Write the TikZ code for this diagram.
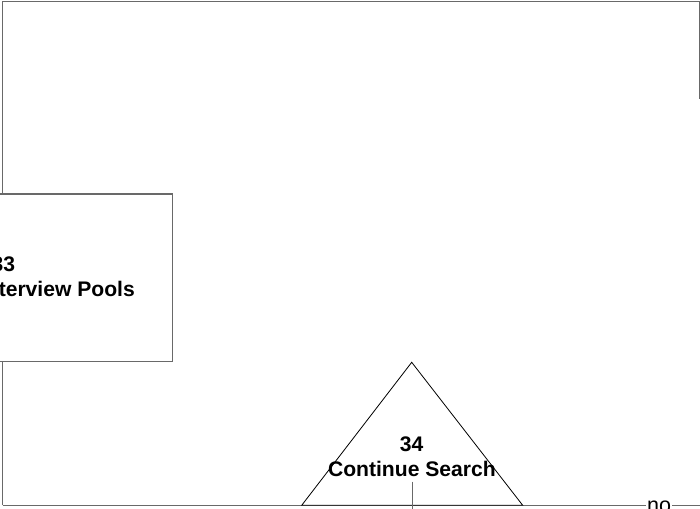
\documentclass[tikz,border=0pt]{standalone}
\usepackage{fontspec}
\setmainfont{Liberation Sans}
\definecolor{linegray}{RGB}{105,105,105}
\begin{document}
\begin{tikzpicture}[x=1pt,y=-1pt,
  flow/.style={draw=linegray, line width=1.5pt},
  procbox/.style={draw=linegray, line width=1.5pt, fill=white, rectangle, inner sep=0pt},
  tri/.style={draw=black, line width=0.8pt, fill=white},
  boldlbl/.style={font=\bfseries\fontsize{21.1}{25}\selectfont, inner sep=0pt, anchor=base},
  edgelbl/.style={font=\fontsize{21.5}{25}\selectfont, inner sep=1.5pt, fill=white, anchor=base}]
\useasboundingbox (0,0) rectangle (700,508);
% loop connector
\coordinate (tl) at (2.7,1.7);
\coordinate (tr) at (699.3,1.7);
\coordinate (rend) at (699.3,99);
\coordinate (bl) at (2.7,505.3);
\coordinate (br) at (712,505.3);
\draw[flow] (bl) -- (tl) -- (tr) -- (rend);
\draw[flow] (bl) -- (br);
% box 33
\node[procbox, minimum width=337.3pt, minimum height=167.7pt] (box33) at (3.65,277.85) {};
\node[boldlbl] (num33) at (3.3,271.7) {33};
\node[boldlbl, anchor=base east] (txt33) at (135,296.7) {Interview Pools};
% triangle 34
\coordinate (ta) at (411.7,362.3);
\coordinate (tb) at (301.7,505.3);
\coordinate (tc) at (522.7,505.3);
\draw[tri] (tb) -- (ta) -- (tc) -- cycle;
\node[boldlbl] (num34) at (411.7,451.7) {34};
\node[boldlbl] (txt34) at (411.9,476.7) {Continue Search};
% outgoing line
\coordinate (v1) at (412.3,481.7);
\coordinate (v2) at (412.3,512);
\draw[flow] (v1) -- (v2);
% no label
\node[edgelbl] (no) at (659,512) {no};
\end{tikzpicture}
\end{document}
